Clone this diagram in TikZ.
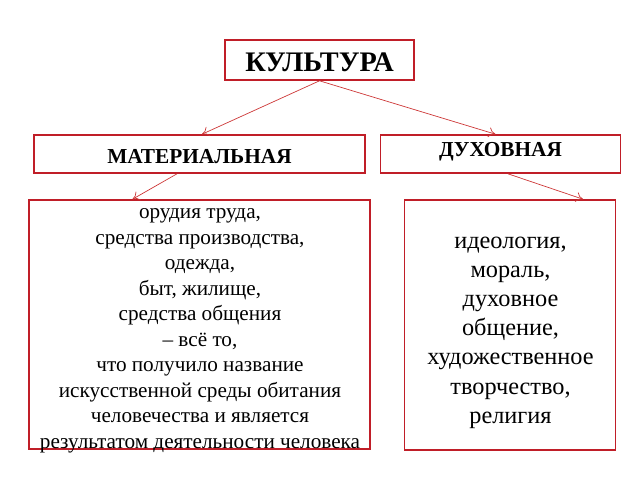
\documentclass[tikz,border=0pt]{standalone}
\usepackage{fontspec}
\setmainfont{Liberation Serif}
\usetikzlibrary{arrows.meta}
\definecolor{boxred}{RGB}{192,30,40}
\definecolor{linered}{RGB}{205,55,55}
\tikzset{
  box/.style={draw=boxred, line width=1.6pt, inner sep=0pt, fill=white},
  conn/.style={draw=linered, line width=0.7pt, -{To[length=7pt,width=10pt]}},
  txt/.style={align=center, inner sep=0pt, text=black}
}
\begin{document}
\begin{tikzpicture}[x=1pt,y=-1pt]
\useasboundingbox (0,0) rectangle (640,480);
\node[box, minimum width=189pt, minimum height=40pt] (kult) at (319.5,60) {};
\node[txt, font=\fontsize{28.3}{32}\selectfont\bfseries] (kultt) at (319.5,62) {КУЛЬТУРА};
\node[box, minimum width=331pt, minimum height=38pt] (mat) at (199.5,154) {};
\node[txt, font=\fontsize{21.3}{24}\selectfont\bfseries] (matt) at (199.5,157) {МАТЕРИАЛЬНАЯ};
\node[box, minimum width=240pt, minimum height=38pt] (dukh) at (500.5,154) {};
\node[txt, font=\fontsize{21.3}{24}\selectfont\bfseries] (dukht) at (500.5,152) {ДУХОВНАЯ};
\node[box, minimum width=341pt, minimum height=249pt] (left) at (199.5,324.5) {};
\node[box, minimum width=211pt, minimum height=250pt] (right) at (510,325) {};
\node[txt, font=\fontsize{21.2}{25.5}\selectfont] (leftt) at (200,331) {орудия труда,\\
средства производства,\\
одежда,\\
быт, жилище,\\
средства общения\\
– всё то,\\
что получило название\\
искусственной среды обитания\\
человечества и является\\
результатом деятельности человека};
\node[txt, font=\fontsize{24.3}{29.2}\selectfont] (rightt) at (510.5,332.5) {идеология,\\
мораль,\\
духовное\\
общение,\\
художественное\\
творчество,\\
религия};
\draw[conn] (kult.south) -- ([xshift=2.5pt]mat.north);
\draw[conn] (kult.south) -- ([xshift=-5pt]dukh.north);
\draw[conn] ([xshift=-22.5pt]mat.south) -- ([xshift=-67pt]left.north);
\draw[conn] ([xshift=7.5pt]dukh.south) -- ([xshift=73pt]right.north);
\end{tikzpicture}
\end{document}
